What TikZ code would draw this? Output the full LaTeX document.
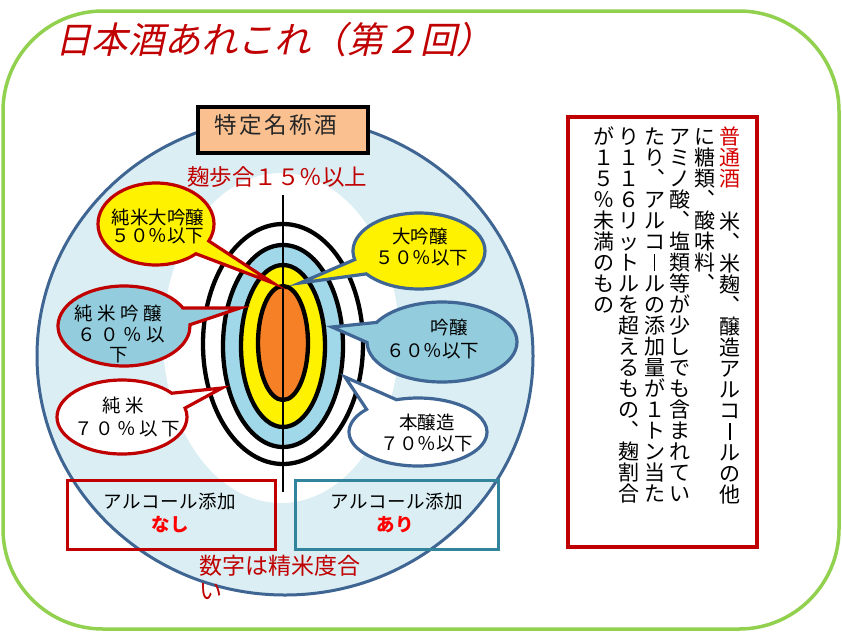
\documentclass[tikz,border=0pt]{standalone}
\usepackage{fontspec}
\setmainfont{Noto Sans CJK JP}
\newfontfamily\titlefont[FakeSlant=0.22]{Noto Sans CJK JP}
\usetikzlibrary{shapes.callouts,shapes.geometric}
\definecolor{cred}{HTML}{C00000}
\definecolor{cbright}{HTML}{FF0000}
\definecolor{cvred}{HTML}{D40000}
\definecolor{cblue}{HTML}{3F6695}
\definecolor{ccirc}{HTML}{3F6593}
\definecolor{cfill}{HTML}{DAEEF3}
\definecolor{cring}{HTML}{A0D8EA}
\definecolor{cbub}{HTML}{93CDDD}
\definecolor{corange}{HTML}{F58025}
\definecolor{cpeach}{HTML}{FAC090}
\definecolor{cgreen}{HTML}{92D050}
\definecolor{cteal}{HTML}{31849B}
\newcommand\vbar{\rule[-0.02em]{0.07em}{0.8em}}
\def\vtA#1{\ifx#1\relax\else\hbox to 1.1em{\hss#1\hss}\expandafter\vtA\fi}
\newcommand\vt[1]{\vtop{\baselineskip=21pt\lineskiplimit=-\maxdimen\lineskip=0pt\vtA#1\relax}}
\def\lsA#1{\ifx#1\relax\kern-\lsk\else#1\kern\lsk\expandafter\lsA\fi}
\newcommand\ls[2]{\def\lsk{#2}\lsA#1\relax}
\tikzset{
  bub/.style={ellipse callout, inner sep=0pt, line width=3.2pt},
  ring/.style={draw=black, line width=4.3pt},
  lbl/.style={inner sep=0pt, text=black, font=\fontsize{18.5}{20}\selectfont},
  vtext/.style={anchor=base, inner sep=0pt, font=\fontsize{21}{21}\selectfont},
  frame/.style={inner sep=0pt, line width=3pt},
}
\begin{document}
\begin{tikzpicture}[x=1pt,y=-1pt]
\useasboundingbox (0,0) rectangle (842,632);
% outer green frame
\draw[cgreen, line width=3.5pt, rounded corners=100pt] (3,11) rectangle (839,629);
% title
\node[anchor=west, inner sep=0pt, text=cred, font=\titlefont\fontsize{36.5}{37}\selectfont] (title) at (55,40) {日本酒あれこれ（第２回）};
% big circle
\draw[ccirc, line width=3pt, fill=cfill] (285,356) ellipse [x radius=248, y radius=239];
\fill[white] (281,338) ellipse [x radius=118, y radius=165];
% concentric rings
\draw[ring, fill=white] (283,344) ellipse [x radius=80, y radius=120];
\draw[ring, fill=cring] (283,346) ellipse [x radius=60, y radius=101];
\draw[ring, fill=yellow] (283,346) ellipse [x radius=42, y radius=81];
\draw[ring, fill=corange] (283,343) ellipse [x radius=25, y radius=57];
\coordinate (vtop) at (283,195);
\coordinate (vbot) at (283,492);
\draw[black, line width=2.5pt] (vtop) -- (vbot);
% bubbles
\node[bub, fill=yellow, draw=cred, minimum width=116pt, minimum height=82pt,
  callout absolute pointer={(273,283)}, callout pointer arc=22] (b1) at (156,224) {};
\node[bub, fill=yellow, draw=cblue, minimum width=132pt, minimum height=76pt,
  callout absolute pointer={(300,283)}, callout pointer arc=24] (b2) at (419,251) {};
\node[bub, fill=cbub, draw=cred, minimum width=132pt, minimum height=80pt,
  callout absolute pointer={(240,308)}, callout pointer arc=25] (b3) at (124,326) {};
\node[bub, fill=white, draw=cred, minimum width=130pt, minimum height=74pt,
  callout absolute pointer={(222,388)}, callout pointer arc=26] (b4) at (122,417) {};
\node[bub, fill=cbub, draw=cblue, minimum width=150pt, minimum height=80pt,
  callout absolute pointer={(332,327)}, callout pointer arc=30] (b5) at (442,342) {};
\node[bub, fill=white, draw=cblue, minimum width=138pt, minimum height=68pt,
  callout absolute pointer={(345,377)}, callout pointer arc=30] (b6) at (418,432) {};
% bubble texts
\node[lbl] (b1a) at (158,217) {純米大吟醸};
\node[lbl] (b1b) at (158,236) {５０％以下};
\node[lbl] (b2a) at (420,236) {大吟醸};
\node[lbl] (b2b) at (422,258) {５０％以下};
\node[lbl] (b3a) at (118.5,313.5) {\ls{純米吟醸}{4.5pt}};
\node[lbl] (b3b) at (121,335) {\ls{６０％以}{4.5pt}};
\node[lbl] (b3c) at (119,355) {下};
\node[lbl] (b4a) at (123,405) {\ls{純米}{5pt}};
\node[lbl] (b4b) at (127,429) {\ls{７０％以下}{3.3pt}};
\node[lbl] (b5a) at (449,328) {吟醸};
\node[lbl] (b5b) at (433,351) {６０％以下};
\node[lbl] (b6a) at (427,422) {本醸造};
\node[lbl] (b6b) at (427,444) {７０％以下};
% title box
\node[frame, draw=black, line width=4.4pt, fill=cpeach, minimum width=170pt, minimum height=46pt] (tbox) at (283,130) {};
\node[inner sep=0pt, text=black!85, font=\fontsize{22.5}{24}\selectfont] (tboxt) at (276,125) {\ls{特定名称酒}{2.6pt}};
\node[inner sep=0pt, text=cred, font=\fontsize{22.5}{24}\selectfont] (koji) at (277,177.5) {麹歩合１５％以上};
% bottom boxes
\node[frame, draw=cred, minimum width=208pt, minimum height=69pt] (nobox) at (171,514.5) {};
\node[frame, draw=cteal, minimum width=203pt, minimum height=69pt] (yesbox) at (396.5,514.5) {};
\node[lbl] (not) at (170,502) {\ls{アルコール添加}{0.5pt}};
\node[inner sep=0pt, text=cbright, font=\bfseries\fontsize{18.5}{20}\selectfont] (nash) at (170,525) {なし};
\node[lbl] (yest) at (397,502) {\ls{アルコール添加}{0.5pt}};
\node[inner sep=0pt, text=cbright, font=\bfseries\fontsize{18.5}{20}\selectfont] (ari) at (395,525) {あり};
\node[anchor=west, inner sep=0pt, text=cred, font=\fontsize{23}{26}\selectfont] (sub1) at (199,566) {数字は精米度合};
\node[anchor=west, inner sep=0pt, text=cred, font=\fontsize{23}{26}\selectfont] (sub2) at (199,592) {い};
% right box
\node[frame, draw=cred, line width=3.5pt, minimum width=189pt, minimum height=430pt] (rbox) at (662.5,332) {};
\node[vtext, text=cvred] (v1a) at (730,144.8) {\vt{普通酒}};
\node[vtext] (v1b) at (730,229.8) {\vt{米︑米麹︑醸造アルコ\vbar ルの他}};
\node[vtext] (v2) at (705,144.8) {\vt{に糖類︑酸味料︑}};
\node[vtext] (v3) at (679.5,144.8) {\vt{アミノ酸︑塩類等が少しでも含まれてい}};
\node[vtext] (v4) at (654.5,144.8) {\vt{たり︑アルコ\vbar ルの添加量が１トン当た}};
\node[vtext] (v5) at (629,144.8) {\vt{り１１６リットルを超えるもの︑麹割合}};
\node[vtext] (v6) at (604,144.8) {\vt{が１５％未満のもの}};
\end{tikzpicture}
\end{document}
